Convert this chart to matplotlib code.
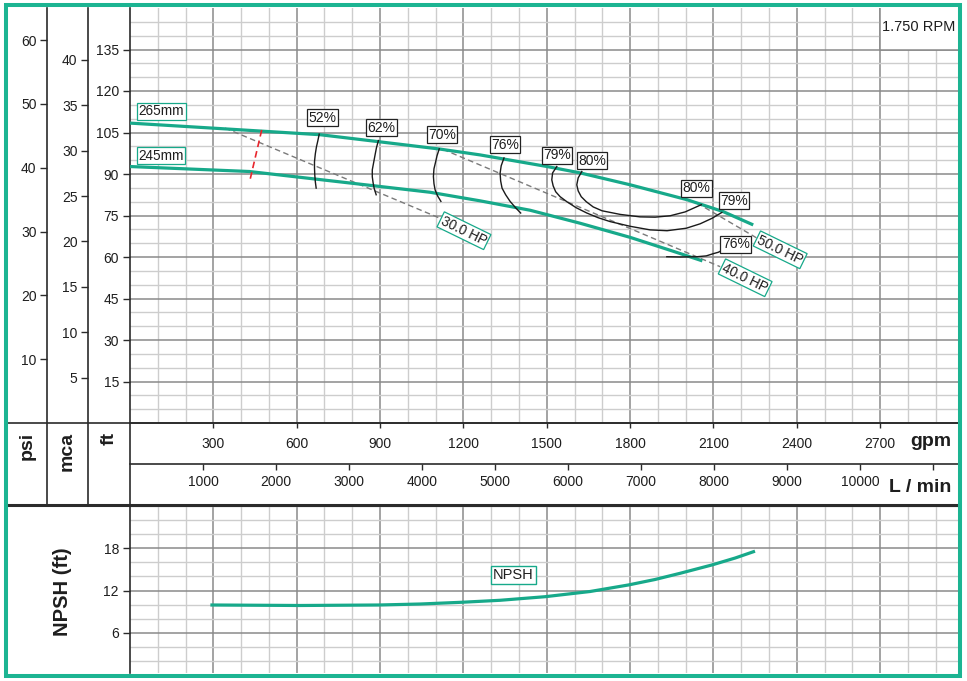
import matplotlib
matplotlib.use("Agg")
import matplotlib.pyplot as plt
from matplotlib.lines import Line2D
from matplotlib.patches import Rectangle

plt.rcParams['font.family'] = ['Liberation Sans', 'DejaVu Sans']

# ---------------- data ----------------
rpm_label = "1.750 RPM"
gpm_ticks = [300, 600, 900, 1200, 1500, 1800, 2100, 2400, 2700]
lmin_ticks = [1000, 2000, 3000, 4000, 5000, 6000, 7000, 8000, 9000, 10000, 11000]
lmin_labels = ["1000", "2000", "3000", "4000", "5000", "6000", "7000", "8000", "9000", "10000", ""]
ft_ticks = [15, 30, 45, 60, 75, 90, 105, 120, 135]
psi_ticks = [10, 20, 30, 40, 50, 60]
mca_ticks = [5, 10, 15, 20, 25, 30, 35, 40]
npsh_ticks = [6, 12, 18]

FT_PER_PSI = 2.3067
FT_PER_M = 3.2808
LMIN_PER_GPM = 3.807

imp265_gpm = [0, 360, 684, 893, 1116, 1260, 1501, 1620, 1800, 2005, 2135, 2243]
imp265_ft = [108.4, 106.2, 104.2, 101.7, 99.0, 96.9, 92.7, 90.4, 86.1, 80.7, 76.4, 71.6]
imp245_gpm = [0, 430, 830, 1080, 1260, 1440, 1620, 1800, 1945, 2060]
imp245_ft = [92.7, 90.9, 86.3, 83.4, 80.3, 76.9, 72.2, 67.1, 62.4, 58.6]

eff52_gpm = [681, 676, 671, 667, 664, 664, 665, 667, 670]
eff52_ft = [104.4, 102.0, 99.8, 97.3, 94.5, 92.2, 89.7, 87.2, 84.9]
eff62_gpm = [894, 887, 882, 877, 872, 872, 875, 879, 886]
eff62_ft = [102.1, 99.5, 96.9, 94.2, 91.5, 89.0, 86.8, 84.7, 82.5]
eff70_gpm = [1113, 1105, 1100, 1094, 1092, 1094, 1098, 1107, 1119]
eff70_ft = [99.1, 96.6, 94.4, 91.9, 89.1, 86.5, 84.3, 82.1, 80.1]
eff76a_gpm = [1346, 1336, 1332, 1334, 1339, 1352, 1368, 1386, 1406]
eff76a_ft = [95.8, 93.0, 90.3, 87.5, 84.9, 82.5, 80.1, 78.0, 75.9]
eff79_gpm = [1536, 1521, 1518, 1523, 1532, 1548, 1572, 1606, 1644, 1685, 1728,
             1800, 1872, 1933, 2002, 2052, 2095, 2130]
eff79_ft = [92.7, 90.4, 87.9, 85.7, 83.6, 81.8, 80.0, 77.8, 75.9, 74.2, 72.8,
            71.1, 69.8, 69.5, 70.4, 72.0, 74.0, 76.1]
eff80_gpm = [1626, 1613, 1608, 1613, 1624, 1642, 1667, 1699, 1764, 1836, 1890,
             1944, 1998, 2056]
eff80_ft = [90.9, 88.6, 86.1, 83.9, 81.8, 80.0, 78.1, 76.7, 75.4, 74.5, 74.4,
            74.9, 76.3, 78.9]
eff76b_gpm = [1932, 1980, 2040, 2074, 2099, 2117, 2131]
eff76b_ft = [60.1, 60.0, 60.1, 60.4, 61.2, 61.7, 62.4]

hp30_gpm = [342, 1116]
hp30_ft = [106.6, 74.0]
hp40_gpm = [1127, 2124]
hp40_ft = [98.9, 56.5]
hp50_gpm = [2041, 2257]
hp50_ft = [79.5, 66.8]

red_gpm = [474, 432]
red_ft = [105.9, 87.9]

npsh_gpm = [295, 612, 896, 1044, 1195, 1332, 1494, 1656, 1794, 1890, 1980, 2094, 2178, 2244]
npsh_ft = [9.94, 9.87, 9.94, 10.08, 10.33, 10.61, 11.12, 11.86, 12.79, 13.57, 14.45,
           15.63, 16.62, 17.52]

eff_label_text = ["52%", "62%", "70%", "76%", "79%", "80%", "80%", "79%", "76%"]
eff_label_gpm = [693, 905, 1123, 1350, 1537, 1663, 2038, 2174, 2180]
eff_label_ft = [110.3, 106.7, 104.2, 100.6, 96.8, 94.8, 84.8, 80.3, 64.6]

imp_label_text = ["265mm", "245mm"]
imp_label_gpm = [113, 110]
imp_label_ft = [112.7, 96.6]

hp_label_text = ["30.0 HP", "40.0 HP", "50.0 HP"]
hp_label_gpm = [1202, 2214, 2340]
hp_label_ft = [69.5, 52.5, 62.6]

# ---------------- styles ----------------
W, H = 967, 681
TEAL = '#17a98a'
BORDER = '#1cb492'
MAJ = '#8a8a8a'
MIN = '#cdcdcd'
DARK = '#2b2b2b'
TXT = '#1e1e1e'
XMAX = 2980


def fx(p):
    return p / W


def fy(p):
    return 1 - p / H


fig = plt.figure(figsize=(W / 100, H / 100), dpi=100)


def style_grid(ax, xmajor, xminor, ymajor, yminor):
    ax.set_xticks(xmajor)
    ax.set_xticks(xminor, minor=True)
    ax.set_yticks(ymajor)
    ax.set_yticks(yminor, minor=True)
    ax.set_axisbelow(True)
    ax.grid(which='major', color=MAJ, lw=1.1)
    ax.grid(which='minor', color=MIN, lw=1.0)
    ax.tick_params(which='minor', length=0)
    for s in ['top', 'right']:
        ax.spines[s].set_visible(False)
    ax.spines['left'].set_color(DARK)
    ax.spines['left'].set_linewidth(1.2)
    ax.spines['bottom'].set_color(DARK)
    ax.spines['bottom'].set_linewidth(1.2)


# main panel
ax = fig.add_axes([fx(130), fy(423), (958 - 130) / W, (423 - 8) / H])
ax.set_xlim(0, XMAX)
ax.set_ylim(0, 150)
style_grid(ax, gpm_ticks, [v for v in range(100, XMAX, 100)],
           ft_ticks, [v for v in range(5, 150, 5)])
ax.tick_params(axis='y', which='major', direction='out', length=5, width=1,
               color=DARK, pad=3, labelsize=10, labelcolor=TXT)
ax.tick_params(axis='x', which='major', direction='out', length=3.8, width=1,
               color=DARK, pad=6, labelsize=10, labelcolor=TXT)

ax.add_patch(Rectangle((2700, 135), XMAX - 2700 + 50, 20, facecolor='white',
                       edgecolor=MAJ, lw=1.1, zorder=1, clip_on=True))
ax.text(2840, 143.3, rpm_label, ha='center', va='center', fontsize=10.5,
        color=TXT, zorder=2)

ax.plot(imp265_gpm, imp265_ft, color=TEAL, lw=2.3, zorder=3, solid_capstyle='butt')
ax.plot(imp245_gpm, imp245_ft, color=TEAL, lw=2.3, zorder=3, solid_capstyle='butt')

for g, f in [(eff52_gpm, eff52_ft), (eff62_gpm, eff62_ft), (eff70_gpm, eff70_ft),
             (eff76a_gpm, eff76a_ft), (eff79_gpm, eff79_ft), (eff80_gpm, eff80_ft),
             (eff76b_gpm, eff76b_ft)]:
    ax.plot(g, f, color='#1a1a1a', lw=1.0, zorder=4, solid_joinstyle='round')

for g, f in [(hp30_gpm, hp30_ft), (hp40_gpm, hp40_ft), (hp50_gpm, hp50_ft)]:
    ax.plot(g, f, color='#7a7a7a', lw=1.0, ls=(0, (4, 2.5)), zorder=2.5)

ax.plot(red_gpm, red_ft, color='#e8262d', lw=1.2, ls=(0, (4, 2.5)), zorder=4)

for t, g, f in zip(eff_label_text, eff_label_gpm, eff_label_ft):
    ax.text(g, f, t, ha='center', va='center', fontsize=10, color=TXT, zorder=6,
            bbox=dict(boxstyle='square,pad=0.1', fc='white', ec='#222222', lw=0.9))

for t, g, f in zip(imp_label_text, imp_label_gpm, imp_label_ft):
    ax.text(g, f, t, ha='center', va='center', fontsize=9.8, color=TXT, zorder=6,
            bbox=dict(boxstyle='square,pad=0.1', fc='white', ec=TEAL, lw=0.9))

for t, g, f in zip(hp_label_text, hp_label_gpm, hp_label_ft):
    ax.text(g, f, t, ha='center', va='center', fontsize=9.8, color=TXT, zorder=6,
            rotation=-26, rotation_mode='anchor',
            bbox=dict(boxstyle='square,pad=0.1', fc='white', ec=TEAL, lw=0.9))

# psi and mca scales
for xpos, lim, ticks in [(47, 150 / FT_PER_PSI, psi_ticks), (88, 150 / FT_PER_M, mca_ticks)]:
    a = fig.add_axes([fx(xpos), fy(423), 1e-4, (423 - 8) / H])
    a.set_ylim(0, lim)
    a.set_yticks(ticks)
    a.patch.set_visible(False)
    for s in a.spines.values():
        s.set_visible(False)
    a.xaxis.set_visible(False)
    a.tick_params(axis='y', direction='out', length=5, width=1, color=DARK,
                  pad=2.5, labelsize=10, labelcolor=TXT)

# L/min scale row
al = fig.add_axes([fx(130), fy(464), (958 - 130) / W, 41 / H])
al.set_xlim(0, XMAX * LMIN_PER_GPM)
al.set_xticks(lmin_ticks)
al.set_xticklabels(lmin_labels)
al.patch.set_visible(False)
for s in al.spines.values():
    s.set_visible(False)
al.yaxis.set_visible(False)
al.tick_params(axis='x', direction='out', length=4.5, width=1, color=DARK,
               pad=3.5, labelsize=10, labelcolor=TXT)

# NPSH panel
an = fig.add_axes([fx(130), fy(673), (958 - 130) / W, (673 - 505) / H])
an.set_xlim(0, XMAX)
an.set_ylim(0.27, 24.16)
style_grid(an, gpm_ticks, [v for v in range(100, XMAX, 100)],
           npsh_ticks, [v for v in range(2, 25, 2)])
an.spines['bottom'].set_visible(False)
an.tick_params(axis='x', which='major', length=0, labelbottom=False)
an.tick_params(axis='y', which='major', direction='out', length=5, width=1,
               color=DARK, pad=3, labelsize=10, labelcolor=TXT)
an.plot(npsh_gpm, npsh_ft, color=TEAL, lw=2.3, zorder=3, solid_joinstyle='round')
an.text(1379, 14.2, "NPSH", ha='center', va='center', fontsize=10.5, color=TXT,
        zorder=6, bbox=dict(boxstyle='square,pad=0.15', fc='white', ec=TEAL, lw=1.0))

# frame lines


def fline(x0, y0, x1, y1, lw=1.2, color=DARK):
    fig.add_artist(Line2D([fx(x0), fx(x1)], [fy(y0), fy(y1)], transform=fig.transFigure,
                          color=color, lw=lw, zorder=8))


fline(47, 8, 47, 505)
fline(88, 8, 88, 505)
fline(130, 423, 130, 505)
fline(8, 423, 958, 423)
fline(130, 464, 958, 464)
fline(8, 505, 958, 505, lw=2.2)

# axis unit labels
for xc, t in [(27.5, 'psi'), (67.5, 'mca'), (109.5, 'ft')]:
    fig.text(fx(xc), fy(432), t, rotation=90, ha='center', va='top',
             fontsize=14, fontweight='bold', color=TXT)
fig.text(fx(62), fy(592), 'NPSH (ft)', rotation=90, ha='center', va='center',
         fontsize=14.5, fontweight='bold', color=TXT)
fig.text(fx(951), fy(442), 'gpm', ha='right', va='center', fontsize=14,
         fontweight='bold', color=TXT)
fig.text(fx(951), fy(487), 'L / min', ha='right', va='center', fontsize=14,
         fontweight='bold', color=TXT)

# green outer frame
fig.add_artist(Rectangle((fx(5.5), fy(675.5)), fx(960) - fx(5.5), fy(5.5) - fy(675.5),
                         transform=fig.transFigure, fill=False, ec=BORDER, lw=2.9,
                         zorder=10))

fig.savefig('out.png', dpi=100)
